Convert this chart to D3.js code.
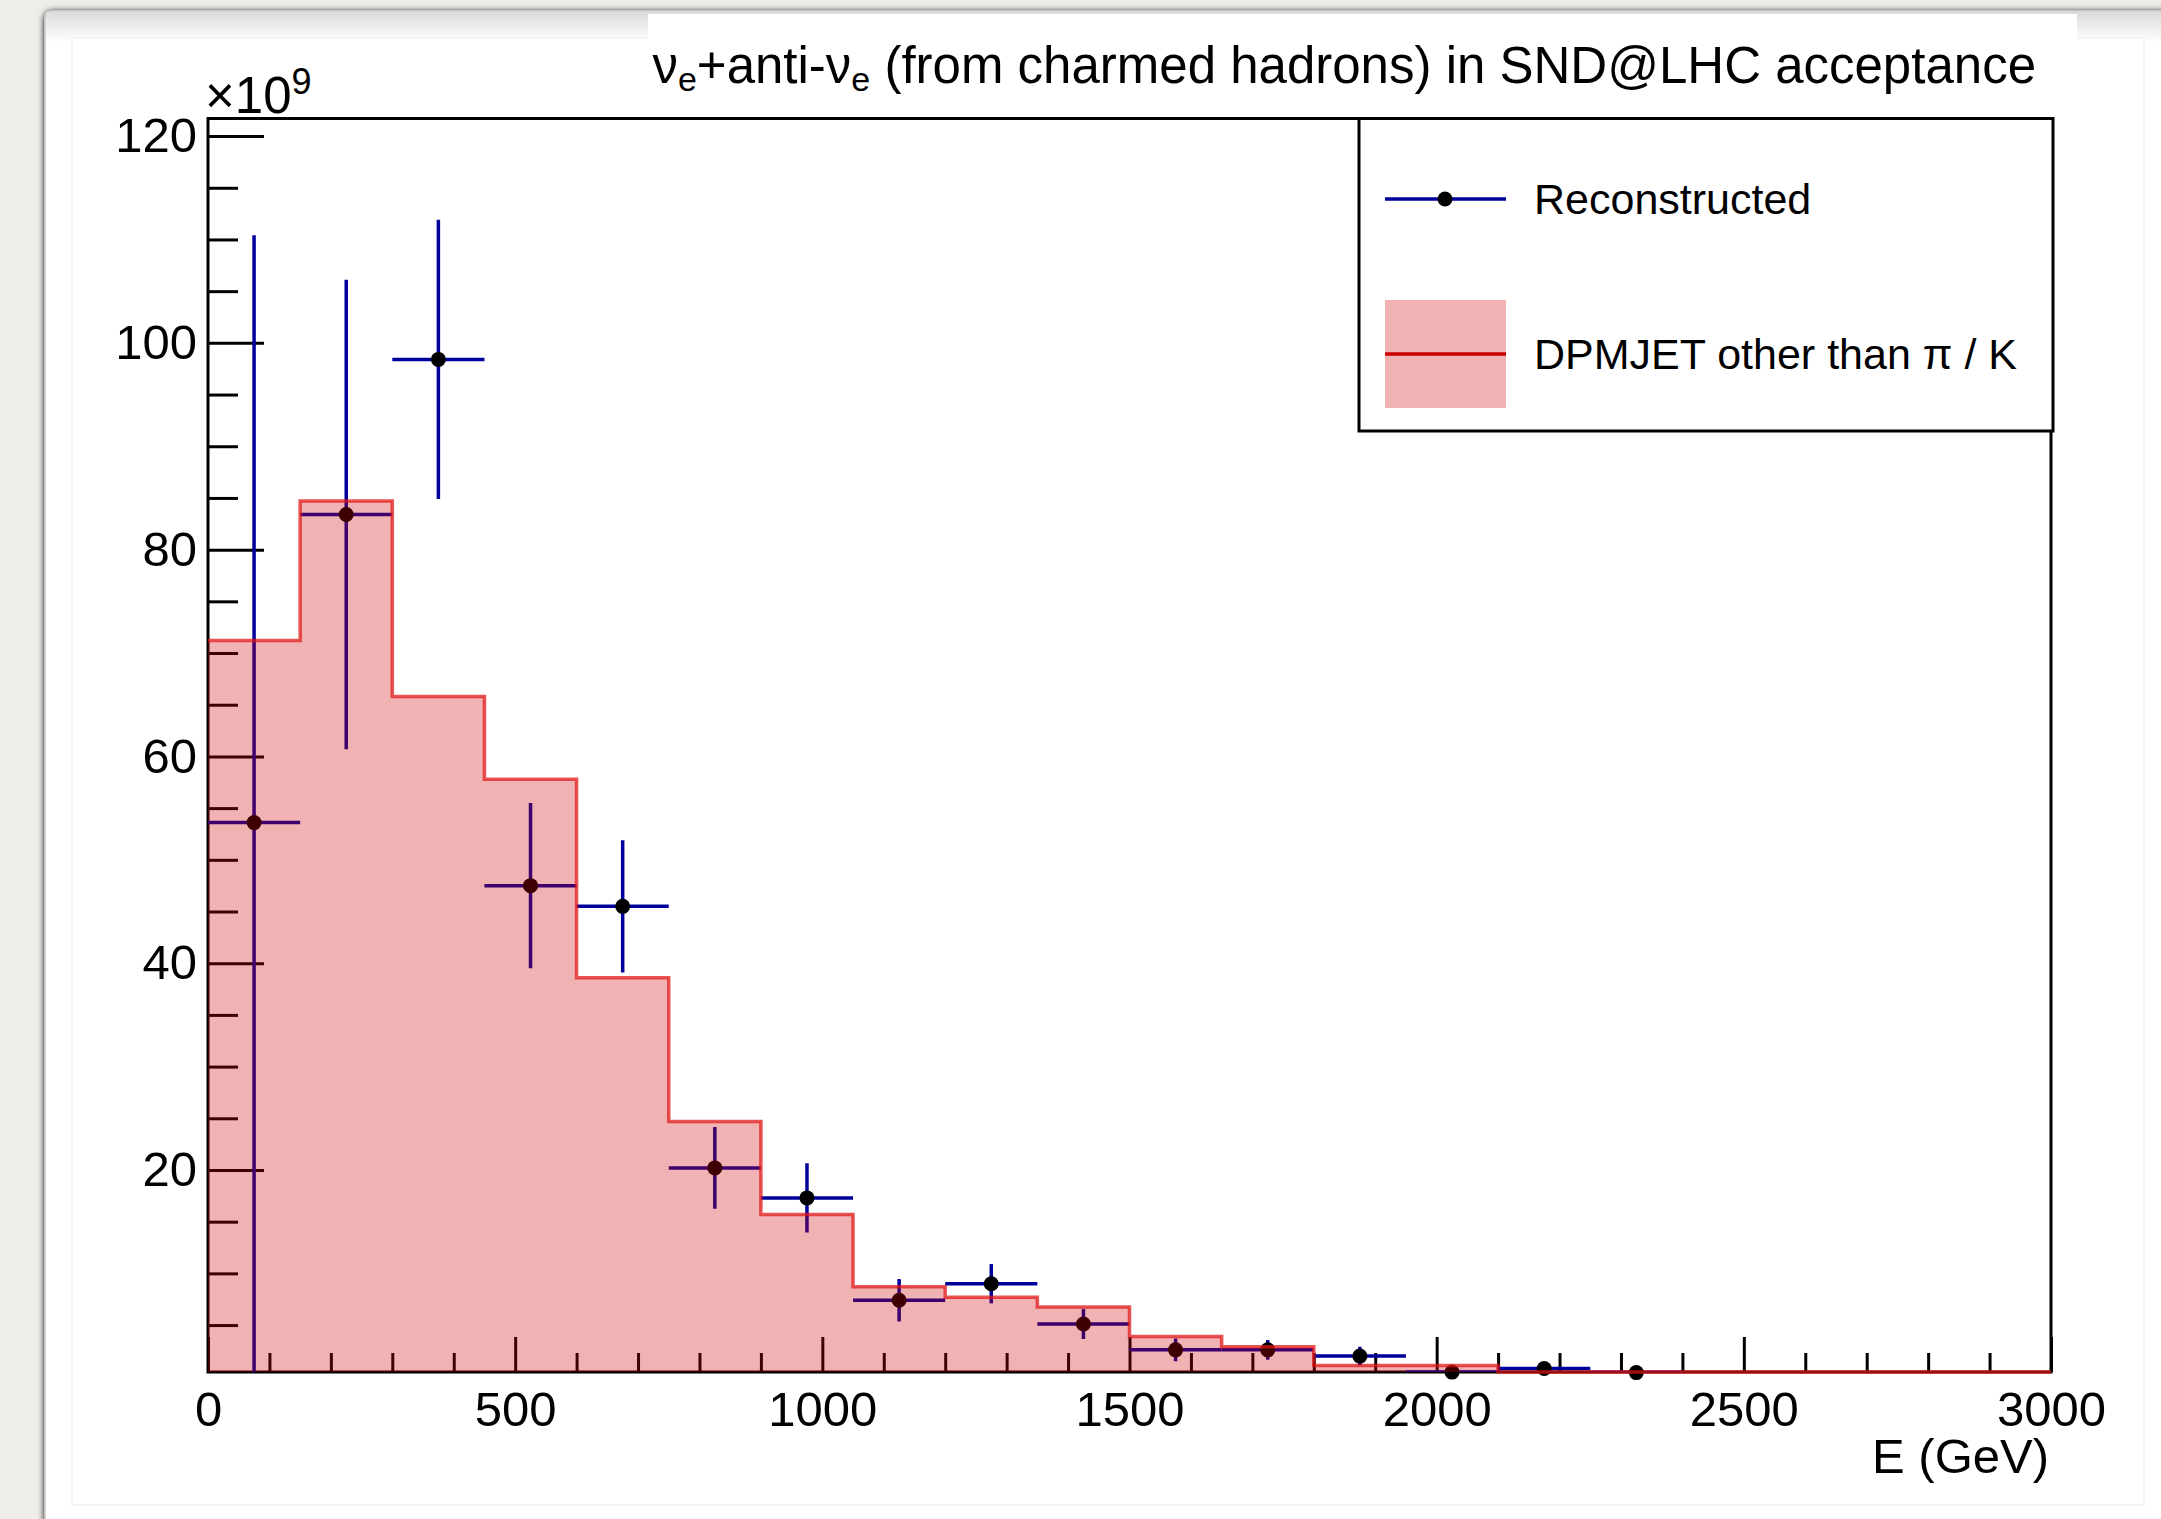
<!DOCTYPE html>
<html>
<head>
<meta charset="utf-8">
<script src="https://cdn.jsdelivr.net/npm/d3@7"></script>
<style>
  body { margin: 0; background: #efede8; }
  svg { display: block; font-family: "Liberation Sans", Arial, sans-serif; }
</style>
</head>
<body>
<svg id="chart" width="2161" height="1519"></svg>
<script>
/* Data, y values in units of 1e9 */
var binLow = [0, 150, 300, 450, 600, 750, 900, 1050, 1200, 1350,
              1500, 1650, 1800, 1950, 2100, 2250, 2400, 2550, 2700, 2850];
var binWidth = 150;
var dpmjet = [71.2, 84.7, 65.8, 57.8, 38.6, 24.7, 15.7, 8.7, 7.7, 6.75,
              3.9, 2.9, 1.1, 1.1, 0.3, 0.25, 0.2, 0.15, 0.1, 0.1];
var reco    = [53.6, 83.4, 98.4, 47.5, 45.5, 20.2, 17.3, 7.4, 9.0, 5.1,
               2.6, 2.6, 2.0, 0.45, 0.8, 0.4];
var recoErr = [56.8, 22.7, 13.5, 8.0, 6.4, 3.95, 3.35, 2.05, 1.9, 1.45,
               1.1, 0.95, 0.9, 0.3, 0.4, 0.3];
var xTicks = [0, 500, 1000, 1500, 2000, 2500, 3000];
var yTicks = [20, 40, 60, 80, 100, 120];

var svg = d3.select('#chart');

var frame = {left: 208, top: 118.5, right: 2051, bottom: 1372};

var x = d3.scaleLinear().domain([0, 3000]).range([frame.left, frame.right]);
var y = d3.scaleLinear().domain([0.46, 121.7]).range([frame.bottom, frame.top]);

var blue = '#00009c';
var histFill = 'rgba(204,0,0,0.3)';
var histLine = 'rgba(225,20,20,0.72)';

/* page background, card and shadow */
var defs = svg.append('defs');
var shadow = defs.append('filter').attr('id', 'shadow')
    .attr('x', '-5%').attr('y', '-5%').attr('width', '110%').attr('height', '110%');
shadow.append('feGaussianBlur').attr('in', 'SourceAlpha').attr('stdDeviation', 3);
shadow.append('feOffset').attr('dx', 0).attr('dy', 1).attr('result', 'blur');
var merge = shadow.append('feMerge');
merge.append('feMergeNode').attr('in', 'blur');
merge.append('feMergeNode').attr('in', 'SourceGraphic');

var topGrad = defs.append('linearGradient').attr('id', 'topgrad')
    .attr('x1', 0).attr('y1', 0).attr('x2', 0).attr('y2', 1);
topGrad.append('stop').attr('offset', '0%').attr('stop-color', '#dcdcdc');
topGrad.append('stop').attr('offset', '100%').attr('stop-color', '#ffffff');

defs.append('clipPath').attr('id', 'plotclip')
  .append('rect')
    .attr('x', frame.left).attr('y', frame.top)
    .attr('width', frame.right - frame.left)
    .attr('height', frame.bottom - frame.top);

svg.append('rect')
    .attr('x', 0).attr('y', 0).attr('width', 2161).attr('height', 1519)
    .attr('fill', '#efede8');

svg.append('rect')
    .attr('x', 45).attr('y', 11).attr('width', 2140).attr('height', 1530)
    .attr('rx', 7)
    .attr('fill', '#ffffff')
    .attr('stroke', '#c9c9c9')
    .attr('stroke-width', 1.5)
    .attr('filter', 'url(#shadow)');

svg.append('rect')
    .attr('x', 46).attr('y', 12).attr('width', 2120).attr('height', 30)
    .attr('fill', 'url(#topgrad)');

svg.append('rect')
    .attr('x', 72).attr('y', 38).attr('width', 2072).attr('height', 1467)
    .attr('fill', '#ffffff')
    .attr('stroke', '#efefef')
    .attr('stroke-width', 1.5);

svg.append('rect')
    .attr('x', 648).attr('y', 14).attr('width', 1429).attr('height', 26)
    .attr('fill', '#ffffff');

/* axes */
var xMajor = d3.axisBottom(x).tickValues(xTicks).tickSize(-35).tickPadding(19)
    .tickFormat(d3.format('d'));
var xMinor = d3.axisBottom(x).tickValues(x.ticks(30).filter(function(d) { return d % 500 !== 0; }))
    .tickSize(-19).tickFormat('');
var yMajor = d3.axisLeft(y).tickValues(yTicks).tickSize(-56).tickPadding(11)
    .tickFormat(d3.format('d'));
var yMinor = d3.axisLeft(y).tickValues(d3.range(5, 121, 5).filter(function(d) { return d % 20 !== 0; }))
    .tickSize(-30).tickFormat('');

function styleAxis(g) {
  g.select('.domain').remove();
  g.selectAll('.tick line').attr('stroke', '#000').attr('stroke-width', 3);
  g.selectAll('.tick text')
    .attr('fill', '#000')
    .style('font-size', '49px')
    .style('font-family', '"Liberation Sans", Arial, sans-serif');
}

svg.append('g').attr('transform', 'translate(0,' + frame.bottom + ')').call(xMajor).call(styleAxis);
svg.append('g').attr('transform', 'translate(0,' + frame.bottom + ')').call(xMinor).call(styleAxis);
svg.append('g').attr('transform', 'translate(' + frame.left + ',0)').call(yMajor).call(styleAxis);
svg.append('g').attr('transform', 'translate(' + frame.left + ',0)').call(yMinor).call(styleAxis);

svg.append('rect')
    .attr('x', frame.left).attr('y', frame.top)
    .attr('width', frame.right - frame.left)
    .attr('height', frame.bottom - frame.top)
    .attr('fill', 'none')
    .attr('stroke', '#000')
    .attr('stroke-width', 3);

/* axis texts */
svg.append('text')
    .attr('x', 2049).attr('y', 1473)
    .attr('text-anchor', 'end')
    .style('font-size', '49px')
    .text('E (GeV)');

var mult = svg.append('text')
    .attr('x', 205).attr('y', 113)
    .style('font-size', '51px');
mult.append('tspan').text('\u00d710');
mult.append('tspan').attr('dy', -19).style('font-size', '36px').text('9');

/* title */
var title = svg.append('text')
    .attr('x', 2036).attr('y', 83)
    .attr('text-anchor', 'end')
    .style('font-size', '51px');
title.append('tspan').text('\u03bd');
title.append('tspan').attr('dy', 8).style('font-size', '34px').text('e');
title.append('tspan').attr('dy', -8).text('+anti-\u03bd');
title.append('tspan').attr('dy', 8).style('font-size', '34px').text('e');
title.append('tspan').attr('dy', -8).text(' (from charmed hadrons) in SND@LHC acceptance');

/* reconstructed points */
var pts = reco.map(function(v, i) {
  return {lo: binLow[i], hi: binLow[i] + binWidth, c: binLow[i] + binWidth / 2, v: v, e: recoErr[i]};
});

var bars = svg.append('g').attr('clip-path', 'url(#plotclip)');

bars.selectAll('line.h')
  .data(pts)
  .enter().append('line')
    .attr('class', 'h')
    .attr('x1', function(d) { return x(d.lo); })
    .attr('x2', function(d) { return x(d.hi); })
    .attr('y1', function(d) { return y(d.v); })
    .attr('y2', function(d) { return y(d.v); })
    .attr('stroke', blue)
    .attr('stroke-width', 3.5);

bars.selectAll('line.v')
  .data(pts)
  .enter().append('line')
    .attr('class', 'v')
    .attr('x1', function(d) { return x(d.c); })
    .attr('x2', function(d) { return x(d.c); })
    .attr('y1', function(d) { return y(d.v + d.e); })
    .attr('y2', function(d) { return y(d.v - d.e); })
    .attr('stroke', blue)
    .attr('stroke-width', 3.5);

svg.append('g').selectAll('circle')
  .data(pts)
  .enter().append('circle')
    .attr('cx', function(d) { return x(d.c); })
    .attr('cy', function(d) { return y(d.v); })
    .attr('r', 7.5)
    .attr('fill', '#000');

/* DPMJET histogram, drawn on top with transparency */
var lo = y.domain()[0];
var steps = binLow.map(function(b, i) { return {x: b, v: dpmjet[i]}; });
steps.push({x: binLow[binLow.length - 1] + binWidth, v: dpmjet[dpmjet.length - 1]});

var area = d3.area()
    .curve(d3.curveStepAfter)
    .x(function(d) { return x(d.x); })
    .y0(y(lo))
    .y1(function(d) { return y(Math.max(d.v, lo)); });

var line = d3.line()
    .curve(d3.curveStepAfter)
    .x(function(d) { return x(d.x); })
    .y(function(d) { return y(Math.max(d.v, lo)); });

svg.append('path')
    .datum(steps)
    .attr('d', area)
    .attr('fill', histFill);

svg.append('path')
    .datum(steps)
    .attr('d', line)
    .attr('fill', 'none')
    .attr('stroke', histLine)
    .attr('stroke-width', 3.5);

/* legend */
var leg = svg.append('g');
leg.append('rect')
    .attr('x', 1359).attr('y', frame.top)
    .attr('width', 2053 - 1359).attr('height', 431 - frame.top)
    .attr('fill', '#fff')
    .attr('stroke', '#000')
    .attr('stroke-width', 3);

leg.append('line')
    .attr('x1', 1385).attr('x2', 1506).attr('y1', 199).attr('y2', 199)
    .attr('stroke', blue).attr('stroke-width', 3.5);
leg.append('circle')
    .attr('cx', 1445).attr('cy', 199).attr('r', 7.5).attr('fill', '#000');
leg.append('text')
    .attr('x', 1534).attr('y', 199).attr('dy', '0.35em')
    .style('font-size', '43px')
    .text('Reconstructed');

leg.append('rect')
    .attr('x', 1385).attr('y', 300).attr('width', 121).attr('height', 108)
    .attr('fill', histFill);
leg.append('line')
    .attr('x1', 1385).attr('x2', 1506).attr('y1', 354).attr('y2', 354)
    .attr('stroke', '#cc0000').attr('stroke-width', 3.5);
leg.append('text')
    .attr('x', 1534).attr('y', 354).attr('dy', '0.35em')
    .style('font-size', '43px')
    .text('DPMJET other than \u03c0 / K');
</script>
</body>
</html>
